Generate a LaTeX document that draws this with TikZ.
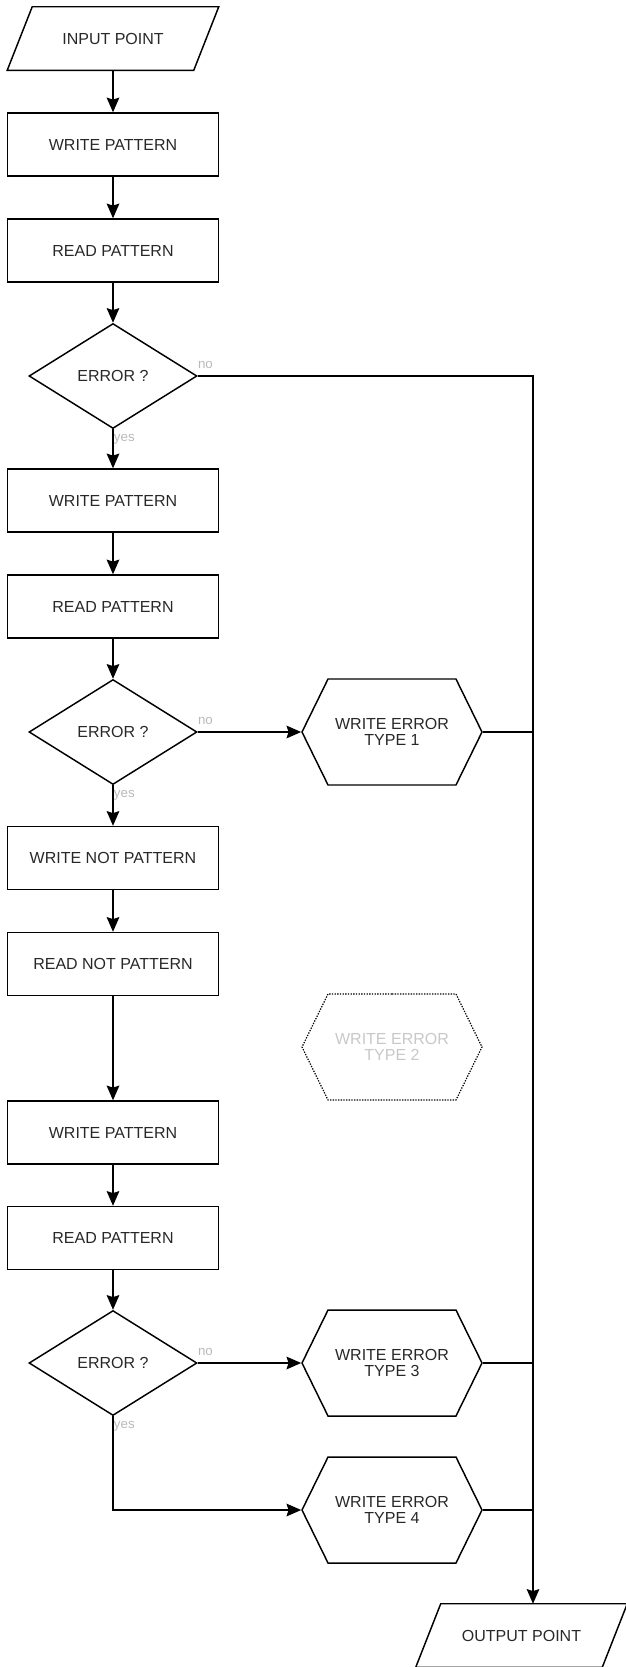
\documentclass[tikz,border=0pt]{standalone}
\usepackage{fontspec}
\setmainfont{Liberation Sans}
\usetikzlibrary{shapes.geometric,shapes.symbols,arrows.meta}

\definecolor{textgray}{RGB}{40,40,40}
\definecolor{labelgray}{RGB}{185,185,185}
\definecolor{ghostgray}{RGB}{200,200,200}

\tikzset{
    flow/.style={line width=1.1pt, -{Stealth[length=11pt, width=9.5pt, inset=1.5pt]}},
    wire/.style={line width=1.1pt},
    txt/.style={font=\fontsize{12}{12.5}\selectfont, text=textgray, align=center, inner sep=0pt},
    stepbox/.style={txt, draw, line width=1.1pt, rectangle, minimum width=158.25pt, minimum height=47.25pt},
    io/.style={txt, rectangle, minimum width=139.5pt, minimum height=47.25pt,
        append after command={\pgfextra{
            \draw[line width=1.1pt] ([xshift=9.375pt]\tikzlastnode.north west)
                -- ([xshift=9.375pt]\tikzlastnode.north east)
                -- ([xshift=-9.375pt]\tikzlastnode.south east)
                -- ([xshift=-9.375pt]\tikzlastnode.south west) -- cycle;}}},
    test/.style={txt, draw, line width=1.1pt, diamond, aspect=1.6, minimum width=126pt, minimum height=78.75pt},
    report/.style={txt, draw, line width=1.1pt, signal, signal to=west and east, signal pointer angle=127.7,
        minimum width=135pt, minimum height=79.5pt},
    ghost/.style={report, line width=0.9pt, dash pattern=on 1pt off 1pt, text=ghostgray},
    lbl/.style={font=\fontsize{10}{11}\selectfont, text=labelgray, inner sep=0pt},
}

\begin{document}
\begin{tikzpicture}[x=0.75pt, y=-0.75pt]
    \useasboundingbox (0, 0) rectangle (625, 1667);

    \node[io] (in) at (113, 38.5) {INPUT POINT};
    \node[stepbox] (wp1) at (113, 144.5) {WRITE PATTERN};
    \node[stepbox] (rp1) at (113, 250.5) {READ PATTERN};
    \node[test] (d1) at (113, 376) {ERROR ?};
    \node[stepbox] (wp2) at (113, 500.5) {WRITE PATTERN};
    \node[stepbox] (rp2) at (113, 606.5) {READ PATTERN};
    \node[test] (d2) at (113, 732) {ERROR ?};
    \node[stepbox] (wnp) at (113, 858) {WRITE NOT PATTERN};
    \node[stepbox] (rnp) at (113, 964) {READ NOT PATTERN};
    \node[stepbox] (wp3) at (113, 1132.5) {WRITE PATTERN};
    \node[stepbox] (rp3) at (113, 1238) {READ PATTERN};
    \node[test] (d3) at (113, 1363) {ERROR ?};

    \node[report] (t1) at (392, 732) {WRITE ERROR\\TYPE 1};
    \node[ghost] (t2) at (392, 1047) {WRITE ERROR\\TYPE 2};
    \node[report] (t3) at (392, 1363) {WRITE ERROR\\TYPE 3};
    \node[report] (t4) at (392, 1510) {WRITE ERROR\\TYPE 4};

    \node[io] (out) at (521.5, 1635.5) {OUTPUT POINT};
    \coordinate (bus) at (533, 376);

    % yes / no labels
    \node[lbl, anchor=south west, yshift=5pt] (no1) at (d1.east) {no};
    \node[lbl, anchor=north west, xshift=0.5pt, yshift=-3.5pt] (yes1) at (d1.south) {yes};
    \node[lbl, anchor=south west, yshift=5pt] (no2) at (d2.east) {no};
    \node[lbl, anchor=north west, xshift=0.5pt, yshift=-3.5pt] (yes2) at (d2.south) {yes};
    \node[lbl, anchor=south west, yshift=5pt] (no3) at (d3.east) {no};
    \node[lbl, anchor=north west, xshift=0.5pt, yshift=-3.5pt] (yes3) at (d3.south) {yes};

    \draw[flow] (in) -- (wp1);
    \draw[flow] (wp1) -- (rp1);
    \draw[flow] (rp1) -- (d1);
    \draw[flow] (d1) -- (wp2);
    \draw[flow] (wp2) -- (rp2);
    \draw[flow] (rp2) -- (d2);
    \draw[flow] (d2) -- (wnp);
    \draw[flow] (wnp) -- (rnp);
    \draw[flow] (rnp) -- (wp3);
    \draw[flow] (wp3) -- (rp3);
    \draw[flow] (rp3) -- (d3);

    \draw[flow] (d2.east) -- (t1.west);
    \draw[flow] (d3.east) -- (t3.west);
    \draw[flow] (d3.south) |- (t4.west);

    \draw[flow] (d1.east) -- (bus) -- (bus |- out.north);
    \draw[wire] (t1.east) -- (t1.east -| bus);
    \draw[wire] (t3.east) -- (t3.east -| bus);
    \draw[wire] (t4.east) -- (t4.east -| bus);
\end{tikzpicture}
\end{document}
